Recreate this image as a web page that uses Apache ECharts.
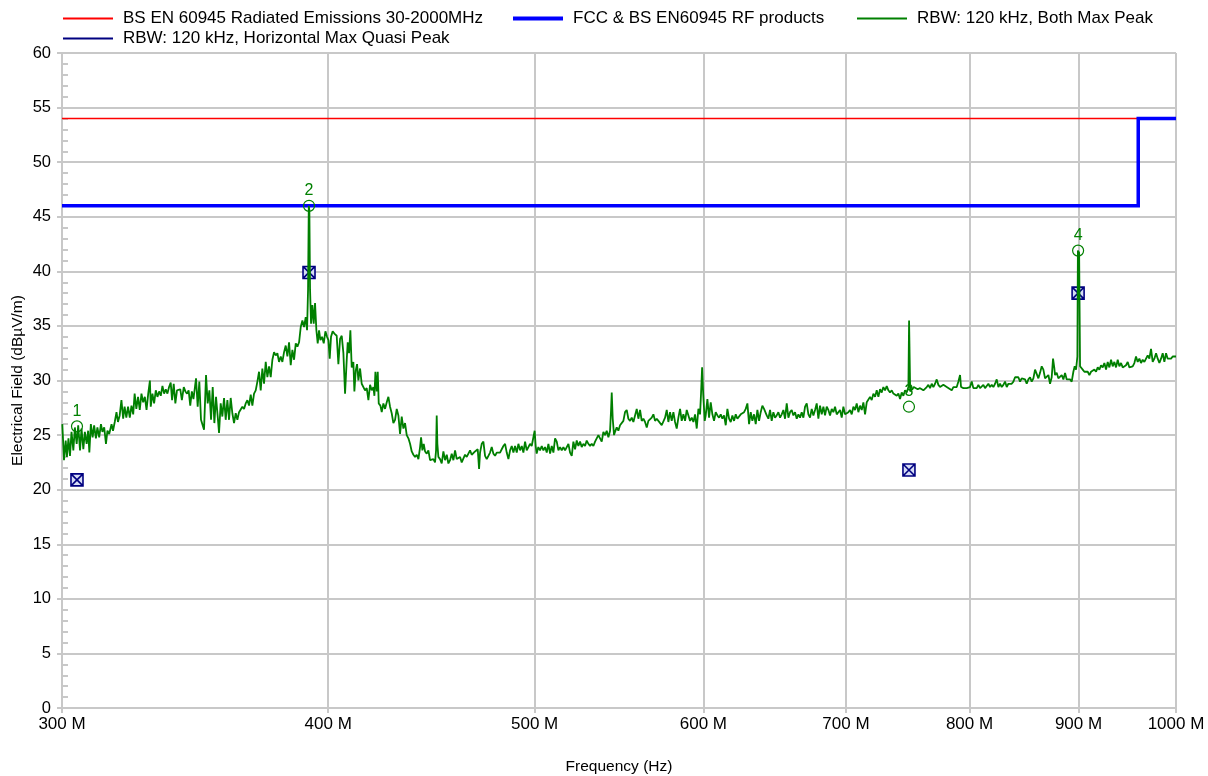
<!DOCTYPE html>
<html>
<head>
<meta charset="utf-8">
<script src="https://cdn.jsdelivr.net/npm/echarts@6/dist/echarts.min.js"></script>
<style>
  html, body { margin: 0; padding: 0; background: #fff; }
  #chart { width: 1208px; height: 776px; }
</style>
</head>
<body>
<div id="chart"></div>
<script>
// Frequency axis tick labels (MHz)
const tickMHz = [300, 400, 500, 600, 700, 800, 900, 1000];

// Limit lines (MHz, dBµV/m)
const limitRedMHz = [300, 1000];
const limitRedDb = [54, 54];
const limitBlueMHz = [300, 960, 960, 1000];
const limitBlueDb = [46, 46, 54, 54];

// Max peak sweep (MHz)
const traceMHz = [
  300.1, 300.65, 301.2, 301.6, 302.1, 302.6, 303.1, 303.7, 304.2, 304.8, 305.3, 305.9, 306.4, 307.0, 307.5, 308.1, 308.6, 309.0, 309.5, 310.1,
  310.6, 311.2, 311.7, 312.3, 312.9, 313.4, 314.0, 314.6, 315.1, 315.7, 316.5, 317.0, 317.6, 318.2, 318.7, 319.3, 319.9, 320.5, 321.0, 321.6,
  322.2, 322.8, 323.4, 324.0, 324.5, 325.1, 325.7, 326.3, 326.9, 327.5, 328.1, 328.7, 329.3, 329.9, 330.2, 330.8, 331.4, 332.0, 332.6, 333.2,
  333.8, 334.4, 335.0, 335.6, 336.2, 336.8, 337.4, 337.9, 338.5, 339.1, 339.7, 340.3, 340.9, 341.5, 342.2, 342.8, 343.4, 344.0, 344.6, 345.2,
  345.8,
  346.76, 347.38, 348.0, 348.63, 349.77, 350.53, 351.16, 351.8, 352.43, 353.07, 353.7, 354.34, 354.98, 355.49, 356.13, 356.77, 357.42, 358.06, 358.71, 359.36,
  360.0, 360.65, 361.3, 361.96, 362.61, 363.26, 363.92, 364.57, 365.23, 365.89, 366.55, 367.21, 367.87, 368.53, 369.2, 369.87, 370.53, 371.2, 371.87, 372.53,
  373.21, 373.89, 374.56, 375.24, 375.91, 376.59, 377.27, 377.95, 378.63, 379.31, 380.0, 380.68, 381.37, 382.06, 382.75, 383.44, 384.13, 384.82, 385.52, 386.22,
  386.92, 387.61, 388.31, 389.0, 389.7, 390.41, 390.97, 391.39, 391.7, 391.95, 392.24, 392.66, 393.22, 393.79, 394.36, 394.93, 395.5, 396.07, 396.64, 397.36,
  398.08, 398.8, 399.52, 400.1, 400.66, 401.23, 401.95, 402.68,
  403.7, 404.43, 405.17, 405.9, 406.63, 407.36, 408.1, 408.54, 409.13, 409.71, 410.3, 411.04, 411.49, 412.09, 412.68, 413.27, 414.02, 414.76, 415.51, 416.26,
  417.02, 417.77, 418.52, 419.27, 420.03, 420.49, 420.95, 421.55, 422.01, 422.46, 423.22, 423.83, 424.59, 425.36, 426.13, 426.89, 427.66, 428.43, 429.2, 429.98,
  430.76, 431.53, 432.31, 433.09, 433.87, 434.65, 435.44, 436.23, 437.01, 437.8, 438.59, 439.38, 440.18, 440.97, 441.77, 442.24, 442.87, 443.51, 444.15, 444.95,
  445.75, 446.56, 447.36, 448.16, 448.97, 449.46, 449.78, 450.1, 450.59, 451.41, 452.22, 453.04, 453.86, 454.68, 455.5, 456.32, 457.14, 457.96, 458.79, 459.62,
  460.45, 461.28, 462.1, 462.94, 463.77, 464.61, 465.45, 466.29, 467.12, 467.97, 468.81,
  469.66, 470.17, 470.85, 471.35, 472.2, 473.05, 473.91, 474.77, 475.62, 476.47, 477.33, 478.19, 479.06, 479.92, 480.79, 481.65, 482.52, 483.39, 484.27, 485.14,
  486.02, 486.89, 487.77, 488.65, 489.53, 490.42, 491.3, 492.18, 493.07, 493.95, 494.85, 495.74, 496.63, 497.53, 498.42, 499.32, 500.0, 500.55, 501.09, 501.99,
  502.93, 503.84, 504.75, 505.66, 506.58, 507.49, 508.41, 509.32, 510.24, 511.16, 512.08, 513.0, 513.93, 514.85, 515.78, 516.71, 517.64, 518.58, 519.51, 520.45,
  521.38, 522.32, 523.26, 524.2, 525.15, 526.09, 527.04, 527.99, 528.94, 529.9, 530.86, 531.81, 532.77, 533.73, 534.7, 535.66, 536.62, 537.59, 538.56, 539.53,
  540.5, 541.48, 542.46, 543.04, 543.44, 544.02, 544.8, 545.39, 546.37, 547.35, 548.34, 549.33, 550.32, 551.31,
  552.31, 553.3, 554.3, 555.3, 556.3, 557.31, 558.32, 559.32, 560.33, 561.34, 562.35, 563.37, 564.39, 565.4, 566.42, 567.44, 568.46, 569.49, 570.52, 571.55,
  572.58, 573.61, 574.64, 575.68, 576.72, 577.75, 578.79, 579.84, 580.88, 581.93, 582.98, 584.03, 585.09, 586.14, 587.2, 588.26, 589.32, 590.39, 591.45, 592.52,
  593.58, 594.65, 595.73, 596.8, 597.87, 598.5, 599.2, 599.9, 600.9, 601.54, 602.63, 603.71, 604.8, 605.89, 606.98, 608.08, 609.18, 610.28, 611.38, 612.47,
  613.58, 614.69, 615.8, 616.91, 618.02, 619.12, 620.25, 621.37, 622.49, 623.61, 624.74, 625.85, 626.99, 628.11, 629.26, 630.39, 631.52, 632.65, 633.8, 634.94,
  636.09, 637.24, 638.38, 639.52, 640.68,
  642.53, 643.69, 644.85, 646.01, 647.17, 648.34, 649.51, 650.68, 651.85, 653.03, 654.2, 655.39, 656.58, 657.76, 658.94, 660.13, 661.31, 662.51, 663.71, 664.91,
  666.1, 667.3, 668.5, 669.72, 670.93, 672.14, 673.34, 674.55, 675.77, 676.99, 678.21, 679.43, 680.65, 681.88, 683.11, 684.34, 685.58, 686.81, 688.05, 689.29,
  690.53, 691.78, 693.03, 694.28, 695.53, 696.78, 698.04, 699.3, 700.56, 701.82, 703.09, 704.35, 705.62, 706.9, 708.17, 709.44, 710.73, 712.01, 713.29, 714.58,
  715.87, 717.16, 718.45, 719.74, 721.04, 722.35, 723.65, 724.95, 726.26, 727.56, 728.87, 730.19, 731.51, 732.82, 734.15, 735.47, 736.79, 738.13, 739.46, 740.79,
  742.12, 743.46, 744.8, 746.15, 747.5, 748.85, 749.4, 750.3, 751.0, 752.07, 753.15,
  754.25, 756.43, 758.34, 761.07, 763.83, 765.2, 766.58, 767.96, 769.34, 770.73, 772.13, 773.52, 774.91, 776.31, 777.7, 779.11, 780.52, 781.92, 784.74, 786.16,
  787.58, 789.0, 790.43, 791.85, 792.7, 794.7, 796.14, 797.57, 799.01, 800.45, 801.89, 803.33, 804.78, 806.24, 807.69, 809.15, 810.6, 812.06, 813.53, 815.0,
  816.47, 817.94, 819.41, 820.89, 822.37, 823.86, 825.34, 826.83, 828.32, 829.81, 831.31, 832.81, 834.31, 835.81, 837.31, 838.82, 840.34, 841.86, 843.37, 844.89,
  846.41, 847.93, 849.47, 851.0, 852.53, 854.07, 855.61, 857.15, 858.7, 860.25, 861.8, 863.35, 864.91, 866.46, 868.03, 869.6, 871.16, 872.73, 874.3, 875.56,
  876.82,
  877.45, 879.0, 880.6, 882.2, 883.8, 885.4, 887.0, 888.6, 890.2, 891.8, 893.4, 895.0, 896.3, 897.6, 898.9, 899.4, 900.6, 901.5, 902.78, 904.08,
  905.72, 907.36, 909.0, 910.63, 912.27, 913.92, 915.56, 917.22, 918.88, 920.53, 922.18, 923.84, 925.51, 927.18, 928.86, 930.52, 932.2, 933.88, 935.56, 937.26,
  938.95, 940.63, 942.33, 944.03, 945.73, 947.44, 949.16, 950.86, 952.57, 954.28, 956.0, 957.73, 959.46, 961.19, 962.91, 964.64, 966.39, 968.13, 969.88, 971.63,
  973.37, 975.13, 976.9, 978.67, 980.44, 982.2, 983.95, 985.73, 987.51, 989.29, 991.07, 992.86, 994.64, 996.42, 998.21, 1000.0
];

// Max peak sweep level (dBµV/m)
const traceDb = [
  26.0, 22.7, 24.5, 23.0, 24.7, 23.1, 25.3, 23.6, 25.7, 24.2, 25.9, 23.6, 25.6, 23.7, 25.3, 24.2, 25.4, 23.4, 26.0, 24.8,
  25.9, 24.7, 25.7, 24.8, 26.0, 25.3, 25.7, 24.2, 25.4, 25.1, 26.0, 25.4, 26.2, 27.1, 26.2, 26.8, 28.2, 26.5, 27.6, 26.6,
  27.6, 26.6, 27.7, 26.9, 28.8, 27.4, 28.5, 27.3, 28.8, 28.0, 28.5, 27.3, 28.8, 30.0, 27.6, 28.8, 27.9, 29.1, 28.5, 29.0,
  28.6, 29.5, 28.8, 29.2, 28.8, 29.4, 29.8, 28.2, 29.7, 27.9, 29.1, 29.0, 29.2, 28.2, 29.4, 29.0, 28.8, 29.1, 27.7, 29.0,
  28.3,
  30.2, 27.6, 29.9, 26.4, 25.5, 30.5, 27.9, 29.1, 26.4, 29.4, 26.1, 28.5, 26.7, 25.2, 27.9, 26.7, 28.4, 26.4, 28.2, 26.4,
  28.4, 27.0, 26.1, 27.0, 26.4, 27.1, 27.0, 27.6, 27.4, 27.9, 28.2, 27.7, 28.7, 27.7, 28.8, 29.1, 29.9, 30.8, 29.1, 31.1,
  29.7, 31.7, 30.3, 31.3, 30.3, 31.9, 32.6, 32.3, 32.5, 31.7, 32.2, 31.7, 32.6, 33.2, 32.2, 33.5, 31.4, 32.8, 31.9, 33.4,
  33.1, 33.5, 34.9, 35.5, 34.9, 35.8, 34.6, 38.3, 46.0, 45.6, 38.3, 35.2, 36.9, 35.2, 37.1, 34.6, 33.4, 34.6, 33.7, 34.0,
  33.4, 34.5, 34.0, 33.7, 32.0, 34.0, 34.5, 34.3,
  34.1, 31.5, 33.8, 34.1, 32.5, 28.8, 31.9, 33.5, 32.5, 34.6, 31.2, 31.7, 29.0, 30.9, 31.5, 30.0, 31.1, 29.7, 29.6, 29.1,
  29.3, 28.2, 29.6, 29.1, 29.4, 28.6, 30.8, 29.0, 30.8, 27.9, 27.7, 27.1, 27.9, 27.4, 28.0, 28.5, 27.6, 27.0, 26.1, 26.4,
  27.4, 26.8, 25.1, 26.7, 25.6, 26.1, 25.0, 24.7, 24.2, 23.5, 23.2, 23.0, 23.2, 22.8, 23.9, 24.8, 23.6, 24.2, 23.5, 23.3,
  23.6, 22.7, 22.7, 22.8, 22.5, 23.6, 26.8, 24.2, 23.0, 22.8, 22.4, 23.5, 22.7, 23.2, 22.4, 22.7, 23.3, 22.7, 23.6, 22.8,
  22.7, 23.0, 22.5, 22.4, 23.2, 23.0, 23.3, 23.6, 23.2, 23.3, 23.5,
  23.4, 23.7, 21.9, 23.4, 24.2, 24.4, 23.1, 22.8, 23.1, 23.4, 23.9, 23.3, 23.1, 23.4, 23.3, 23.4, 23.7, 24.0, 24.2, 23.4,
  22.8, 23.6, 24.0, 23.4, 24.0, 23.4, 24.2, 23.6, 24.0, 23.4, 24.4, 23.6, 23.9, 24.2, 24.0, 23.9, 25.4, 24.0, 23.3, 23.9,
  23.6, 24.0, 23.6, 23.9, 23.4, 24.2, 23.3, 24.0, 23.4, 24.7, 24.4, 23.6, 23.9, 23.6, 23.9, 23.6, 23.7, 24.2, 23.4, 23.1,
  24.4, 23.7, 24.5, 24.0, 24.4, 23.9, 24.2, 24.0, 24.5, 24.2, 24.0, 24.2, 24.0, 24.4, 24.5, 25.0, 24.7, 24.4, 25.3, 25.0,
  25.4, 24.8, 25.4, 27.3, 28.9, 26.5, 25.0, 25.3, 25.7, 25.4, 25.9, 26.0, 26.3, 27.1,
  27.3, 26.5, 26.3, 26.6, 26.2, 26.8, 27.4, 26.5, 27.3, 26.3, 26.5, 26.2, 25.7, 26.3, 26.2, 26.6, 26.9, 26.3, 26.5, 26.3,
  26.2, 25.9, 26.0, 26.6, 27.3, 26.2, 27.1, 26.3, 27.1, 26.2, 25.6, 26.6, 27.4, 26.3, 26.9, 26.3, 27.3, 26.8, 26.3, 26.6,
  26.2, 26.9, 25.6, 27.4, 26.9, 28.8, 31.2, 28.8, 26.3, 26.8, 28.3, 26.6, 28.0, 26.9, 26.3, 27.1, 26.8, 26.6, 26.9, 26.5,
  26.8, 25.9, 27.4, 26.5, 26.2, 26.8, 26.3, 26.9, 26.5, 26.6, 26.9, 26.8, 27.1, 27.4, 27.9, 26.0, 27.1, 26.3, 26.9, 26.0,
  27.3, 26.3, 27.1, 27.7, 27.4,
  26.8, 26.5, 27.3, 26.3, 27.1, 26.6, 26.8, 27.1, 26.6, 26.9, 27.3, 26.5, 27.9, 26.6, 27.1, 27.3, 26.8, 27.1, 26.5, 26.9,
  26.6, 27.1, 26.6, 27.6, 27.9, 26.9, 26.6, 27.4, 26.8, 27.3, 27.9, 26.5, 27.7, 26.9, 27.6, 26.8, 27.6, 27.3, 26.8, 27.4,
  27.1, 27.6, 26.9, 26.8, 27.3, 26.6, 27.6, 26.9, 26.8, 27.1, 27.3, 26.9, 27.6, 27.3, 27.9, 27.1, 27.7, 27.3, 28.0, 26.9,
  28.0, 27.9, 28.5, 28.2, 28.8, 28.5, 29.1, 28.5, 29.2, 28.9, 29.4, 29.1, 29.5, 29.1, 28.9, 29.1, 28.8, 28.9, 28.6, 28.8,
  28.3, 28.9, 28.6, 29.1, 28.9, 29.4, 35.5, 29.0, 28.9, 29.2, 29.4,
  29.3, 29.2, 29.3, 29.1, 29.4, 29.6, 29.3, 29.7, 29.4, 29.7, 30.1, 29.6, 29.4, 29.4, 29.6, 29.7, 29.4, 29.3, 29.1, 29.4,
  29.3, 29.4, 29.9, 30.5, 29.4, 29.3, 29.4, 29.3, 29.3, 29.4, 29.9, 29.3, 29.4, 29.3, 29.6, 29.3, 29.4, 29.6, 29.3, 29.4,
  29.7, 29.4, 29.6, 29.4, 29.7, 30.1, 29.4, 29.7, 29.4, 29.6, 29.9, 29.4, 29.7, 29.6, 29.7, 29.9, 30.3, 30.2, 30.3, 29.9,
  30.2, 30.3, 30.1, 29.7, 30.1, 30.3, 29.9, 30.2, 31.0, 31.1, 30.2, 30.7, 31.3, 31.0, 30.2, 30.1, 30.5, 29.7, 30.3, 32.0,
  31.1,
  30.5, 30.7, 30.2, 30.2, 30.5, 30.1, 30.7, 30.1, 30.2, 30.1, 29.9, 30.8, 31.3, 31.0, 32.2, 41.9, 41.7, 31.3, 31.3, 31.0,
  30.8, 30.7, 30.8, 30.5, 30.8, 30.7, 31.0, 30.8, 31.2, 31.0, 31.4, 31.2, 31.6, 31.0, 31.7, 31.2, 31.9, 31.3, 31.7, 31.2,
  31.9, 31.3, 31.6, 31.2, 31.3, 31.4, 31.7, 31.2, 31.3, 31.3, 31.6, 32.2, 31.7, 32.0, 31.6, 31.9, 31.7, 32.0, 32.3, 32.0,
  32.9, 31.7, 32.0, 32.5, 32.0, 31.6, 32.0, 32.5, 31.7, 32.5, 32.0, 31.9, 32.0, 32.2, 32.3, 32.2
];

// Marked peaks: max peak and quasi-peak readings
const peakMHz = [304.9, 391.8, 749.3, 899.6];
const peakDb = [25.8, 46.0, 27.6, 41.9];
const peakLabels = ['1', '2', '3', '4'];
const qpMHz = [304.9, 391.8, 749.3, 899.6];
const qpDb = [20.9, 39.9, 21.8, 38.0];

const SERIES_NAMES = [
  'BS EN 60945 Radiated Emissions 30-2000MHz',
  'FCC & BS EN60945 RF products',
  'RBW: 120 kHz, Both Max Peak',
  'RBW: 120 kHz, Horizontal Max Quasi Peak'
];

const FONT = '"Liberation Sans", Arial, sans-serif';
const GRID_COLOR = '#c8c8c8';
const lg = Math.log10;
const pairs = (xs, ys) => xs.map((f, i) => [lg(f), ys[i]]);

const chart = echarts.init(document.getElementById('chart'), null, { renderer: 'canvas' });

function legendEntry(name, left, top, color, thickness) {
  return {
    data: [{ name: name, icon: 'rect', itemStyle: { color: color, borderWidth: 0 } }],
    left: left, top: top,
    orient: 'horizontal',
    itemWidth: 50, itemHeight: thickness,
    selectedMode: false,
    padding: 0,
    textStyle: { fontFamily: FONT, fontSize: 17, color: '#000', padding: [0, 0, 0, 5] }
  };
}

const qpSymbol = 'path://M0,0 L10,0 L10,10 L0,10 Z M0,0 L10,10 M10,0 L0,10';

const option = {
  backgroundColor: '#ffffff',
  animation: false,
  textStyle: { fontFamily: FONT },
  legend: [
    legendEntry(SERIES_NAMES[0], 63, 10, '#ff0000', 2),
    legendEntry(SERIES_NAMES[1], 513, 10, '#0000ff', 4),
    legendEntry(SERIES_NAMES[2], 857, 10, '#008000', 2),
    legendEntry(SERIES_NAMES[3], 63, 30, '#000080', 2)
  ],
  grid: { left: 62, right: 32, top: 53, bottom: 68, containLabel: false, outerBoundsMode: 'none' },
  xAxis: {
    type: 'value',
    min: lg(300), max: lg(1000),
    name: 'Frequency (Hz)',
    nameLocation: 'middle',
    nameGap: 51,
    nameMoveOverlap: false,
    nameTextStyle: { fontFamily: FONT, fontSize: 15.5, color: '#000' },
    axisLine: { show: true, lineStyle: { color: GRID_COLOR, width: 2 } },
    axisTick: { show: true, length: 5, customValues: tickMHz.map(lg), lineStyle: { color: GRID_COLOR, width: 2 } },
    axisLabel: {
      customValues: tickMHz.map(lg),
      formatter: v => Math.round(Math.pow(10, v)) + ' M',
      fontFamily: FONT, fontSize: 17, color: '#000', margin: 8
    },
    splitLine: { show: true, lineStyle: { color: GRID_COLOR, width: 2 } }
  },
  yAxis: [
    {
      type: 'value',
      min: 0, max: 60, interval: 5,
      name: 'Electrical Field (dBµV/m)',
      nameLocation: 'middle',
      nameGap: 36,
      nameRotate: 90,
      nameMoveOverlap: false,
      nameTextStyle: { fontFamily: FONT, fontSize: 15.5, color: '#000' },
      axisLine: { show: true, lineStyle: { color: GRID_COLOR, width: 2 } },
      axisTick: { show: true, length: 5, lineStyle: { color: GRID_COLOR, width: 2 } },
      axisLabel: { fontFamily: FONT, fontSize: 16.5, color: '#000', margin: 11 },
      splitLine: { show: true, lineStyle: { color: GRID_COLOR, width: 2 } }
    },
    {
      // fine inner ticks every 1 dB along the value axis
      type: 'value',
      min: 0, max: 60, interval: 1,
      position: 'left',
      axisLine: { show: false },
      axisTick: { show: true, inside: true, length: 6, lineStyle: { color: GRID_COLOR, width: 2 } },
      axisLabel: { show: false },
      splitLine: { show: false }
    }
  ],
  series: [
    {
      name: SERIES_NAMES[0], type: 'line', z: 3,
      data: pairs(limitRedMHz, limitRedDb),
      symbol: 'none', silent: true,
      lineStyle: { color: '#ff0000', width: 1.4 }, itemStyle: { color: '#ff0000' }
    },
    {
      name: SERIES_NAMES[1], type: 'line', z: 3,
      data: pairs(limitBlueMHz, limitBlueDb),
      symbol: 'none', silent: true,
      lineStyle: { color: '#0000ff', width: 3.5, join: 'miter' }, itemStyle: { color: '#0000ff' }
    },
    {
      name: SERIES_NAMES[3], type: 'line', z: 4,
      data: pairs(qpMHz, qpDb),
      lineStyle: { width: 0, opacity: 0 },
      symbol: qpSymbol, symbolSize: 12, showAllSymbol: true,
      itemStyle: { color: '#d6dcf5', borderColor: '#000080', borderWidth: 1.6 }
    },
    {
      name: 'peaks', type: 'line', z: 4,
      data: pairs(peakMHz, peakDb).map((p, i) => ({ value: p, name: peakLabels[i] })),
      lineStyle: { width: 0, opacity: 0 },
      symbol: 'circle', symbolSize: 11, showAllSymbol: true,
      itemStyle: { color: 'rgba(255,255,255,0)', borderColor: '#008000', borderWidth: 1.2 },
      label: {
        show: true, position: 'top', distance: 1,
        formatter: p => p.name,
        fontFamily: FONT, fontSize: 16, color: '#008000'
      }
    },
    {
      name: SERIES_NAMES[2], type: 'line', z: 5,
      data: pairs(traceMHz, traceDb),
      symbol: 'none', silent: true,
      lineStyle: { color: '#007f00', width: 1.8 }, itemStyle: { color: '#008000' }
    }
  ]
};

chart.setOption(option);
</script>
</body>
</html>
